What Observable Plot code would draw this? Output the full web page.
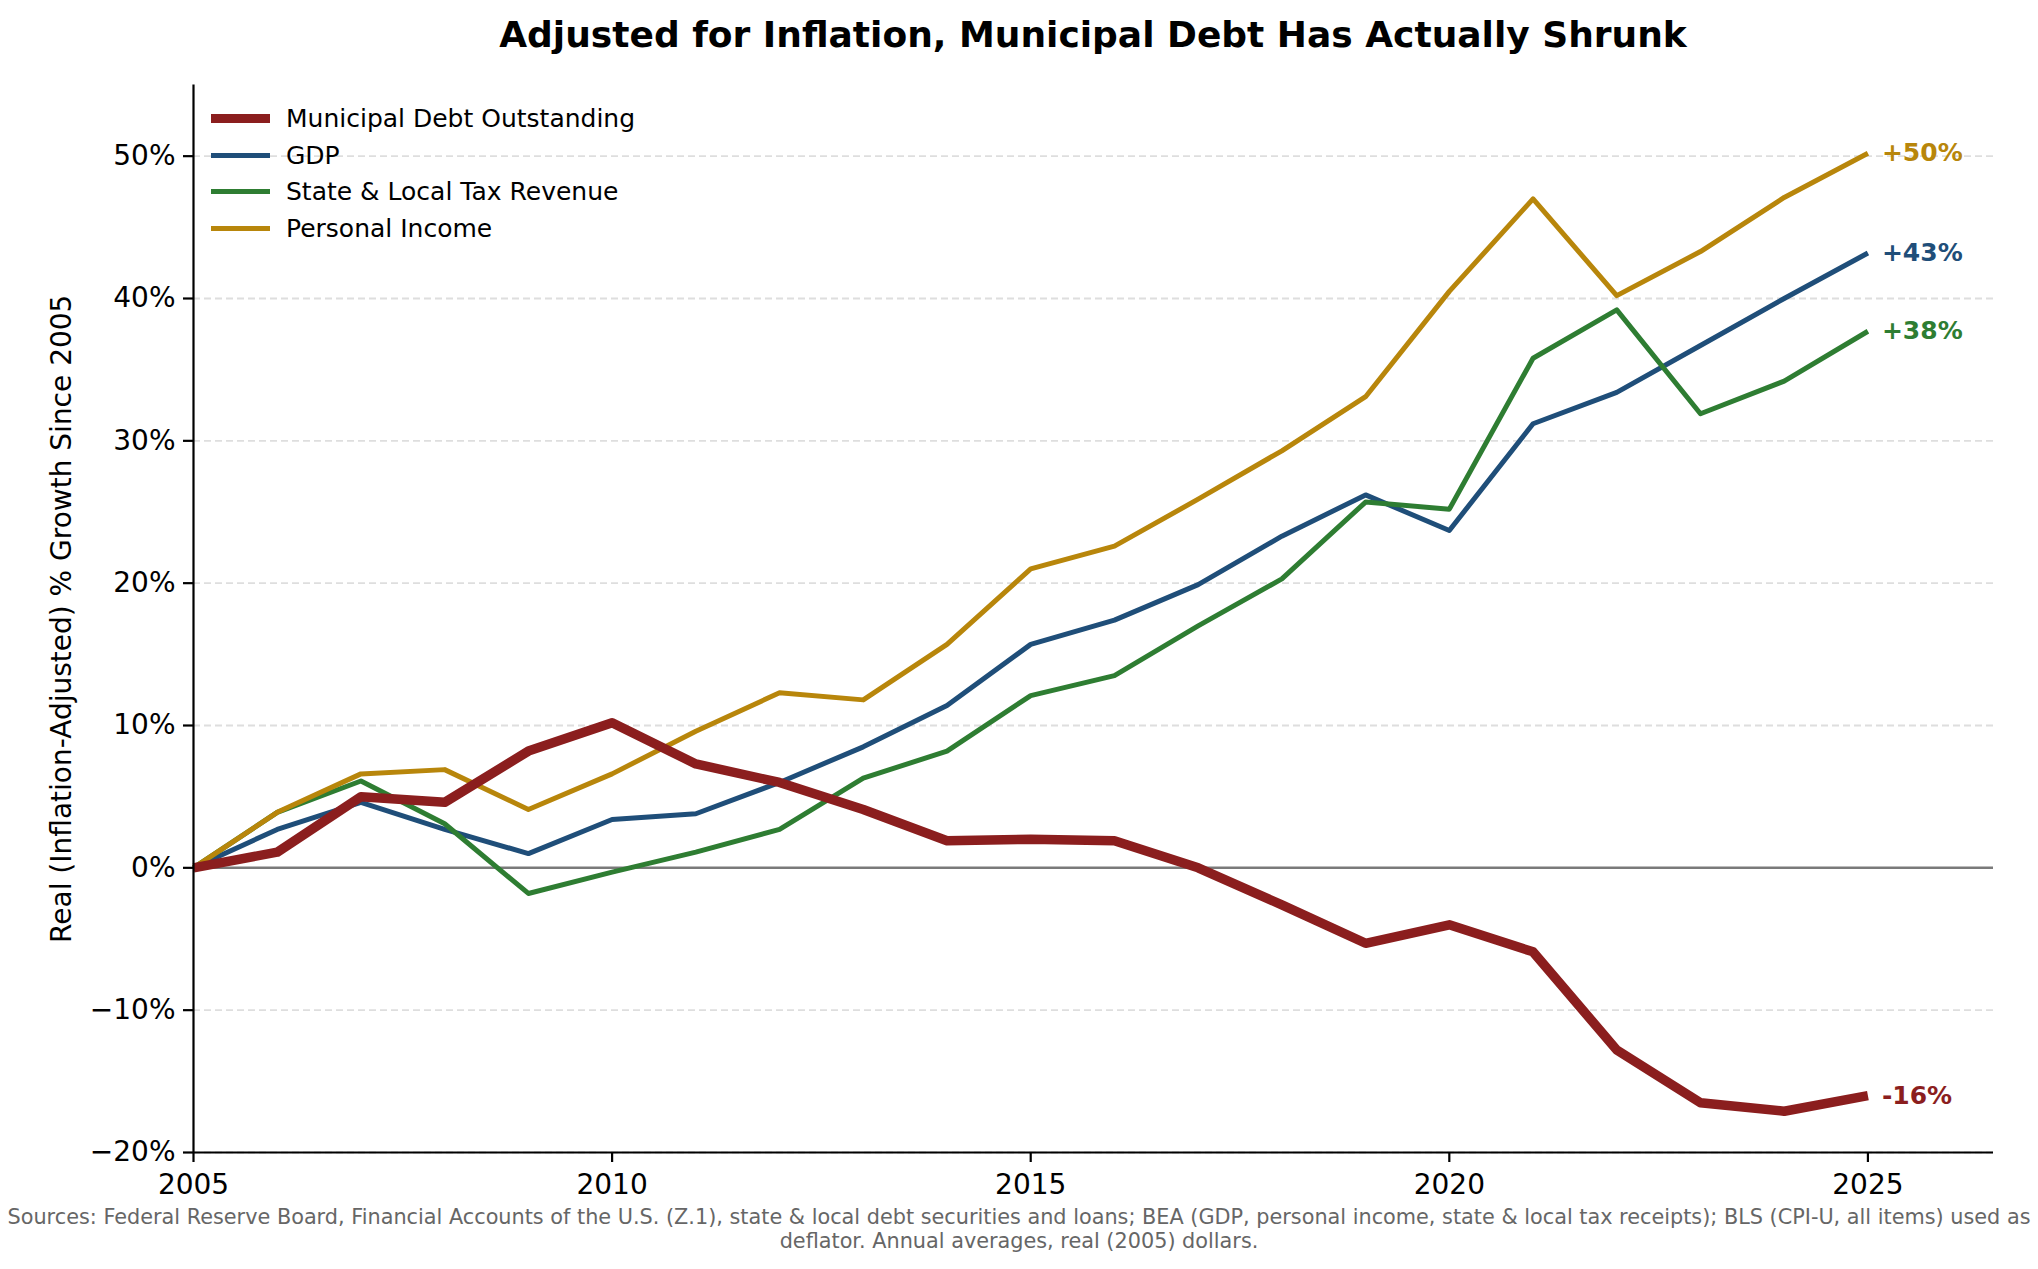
<!DOCTYPE html>
<html><head><meta charset="utf-8">
<script src="https://cdn.jsdelivr.net/npm/d3@7"></script>
<script src="https://cdn.jsdelivr.net/npm/@observablehq/plot@0.6"></script>
<style>
body{margin:0;background:#fff;font-family:"DejaVu Sans",sans-serif;}
#wrap{position:relative;width:2038px;height:1269px;overflow:hidden;}
#title{height:70px;line-height:70px;margin-left:193px;width:1800px;text-align:center;font-weight:bold;font-size:36px;color:#000;}
#chart svg{display:block;}
#caption{font-size:20.8px;line-height:24px;color:#666;text-align:center;width:2038px;margin-top:2px;white-space:nowrap;}
#legend{position:absolute;left:211px;top:100px;font-size:25px;color:#000;}
.row{display:flex;align-items:center;height:36.7px;}
.sw{width:59px;margin-right:16px;}
</style>
</head><body>
<div id="wrap">
<div id="title">Adjusted for Inflation, Municipal Debt Has Actually Shrunk</div>
<div id="chart"></div>
<div id="caption">Sources: Federal Reserve Board, Financial Accounts of the U.S. (Z.1), state &amp; local debt securities and loans; BEA (GDP, personal income, state &amp; local tax receipts); BLS (CPI-U, all items) used as<br>deflator. Annual averages, real (2005) dollars.</div>
<div id="legend"></div>
</div>
<script>
const years = [2005,2006,2007,2008,2009,2010,2011,2012,2013,2014,2015,2016,2017,2018,2019,2020,2021,2022,2023,2024,2025];
const seriesNames = ["Municipal Debt Outstanding","GDP","State & Local Tax Revenue","Personal Income"];
const seriesColors = ["#8B1E1E","#1F4E79","#2E7D32","#B8860B"];
const debt   = [0,1.1,5.0,4.6,8.2,10.2,7.3,6.0,4.1,1.9,2.0,1.9,0.0,-2.6,-5.3,-4.0,-5.9,-12.8,-16.5,-17.1,-16.0];
const gdp    = [0,2.7,4.6,2.7,1.0,3.4,3.8,6.0,8.5,11.4,15.7,17.4,19.9,23.3,26.2,23.7,31.2,33.4,36.7,40.0,43.2];
const tax    = [0,3.9,6.1,3.1,-1.8,-0.3,1.1,2.7,6.3,8.2,12.1,13.5,17.0,20.3,25.7,25.2,35.8,39.2,31.9,34.2,37.7];
const income = [0,3.9,6.6,6.9,4.1,6.6,9.6,12.3,11.8,15.7,21.0,22.6,25.9,29.3,33.1,40.5,47.0,40.2,43.3,47.1,50.2];
const xTicks = [2005,2010,2015,2020,2025];
const yTicks = [-20,-10,0,10,20,30,40,50];

const seriesValues = [debt, gdp, tax, income];
const rows = [];
seriesNames.forEach((name, i) => {
  years.forEach((yr, j) => rows.push({series: name, year: yr, value: seriesValues[i][j]}));
});
const debtRows = rows.filter(d => d.series === seriesNames[0]);
const otherRows = rows.filter(d => d.series !== seriesNames[0]);
const lastRows = rows.filter(d => d.year === years[years.length - 1]);
const fmtEnd = v => (v >= 0 ? "+" : "-") + Math.abs(Math.round(v)) + "%";
const fmtY = d => (d < 0 ? "\u2212" : "") + Math.abs(d) + "%";

const chart = Plot.plot({
  width: 2038,
  height: 1133,
  marginLeft: 193,
  marginRight: 45,
  marginTop: 14.5,
  marginBottom: 51,
  x: {domain: [2005, 2026.5]},
  y: {domain: [-20, 55]},
  color: {domain: seriesNames, range: seriesColors},
  style: {fontFamily: "DejaVu Sans", fontSize: "28px", color: "#000", background: "#fff"},
  marks: [
    Plot.gridY(yTicks, {stroke: "#dedede", strokeOpacity: 1, strokeWidth: 1.8, strokeDasharray: "7,4"}),
    Plot.ruleY([0], {stroke: "#7a7a7a", strokeWidth: 2.5}),
    Plot.line(otherRows, {x: "year", y: "value", z: "series", stroke: "series", strokeWidth: 5, strokeLinejoin: "round", strokeLinecap: "butt"}),
    Plot.line(debtRows, {x: "year", y: "value", z: "series", stroke: "series", strokeWidth: 9.5, strokeLinejoin: "round", strokeLinecap: "butt"}),
    Plot.text(lastRows, {x: "year", y: "value", text: d => fmtEnd(d.value), fill: "series", dx: 14, textAnchor: "start", fontWeight: "bold", fontSize: 25}),
    Plot.ruleX([2005], {stroke: "#000", strokeWidth: 2.2}),
    Plot.ruleY([-20], {stroke: "#000", strokeWidth: 2.2}),
    Plot.axisY(yTicks, {tickFormat: fmtY, tickSize: 10, tickPadding: 8, strokeWidth: 2.2, fontSize: 28,
      label: "Real (Inflation-Adjusted) % Growth Since 2005", labelAnchor: "center", labelArrow: "none", labelOffset: 142}),
    Plot.axisX(xTicks, {tickFormat: d => String(d), tickSize: 10, tickPadding: 12, strokeWidth: 2.2, fontSize: 28, label: null})
  ]
});
document.getElementById("chart").appendChild(chart);

const legend = document.getElementById("legend");
const widths = [9, 5, 5, 5];
seriesNames.forEach((name, i) => {
  const row = document.createElement("div");
  row.className = "row";
  const sw = document.createElement("div");
  sw.className = "sw";
  sw.style.height = widths[i] + "px";
  sw.style.background = seriesColors[i];
  const lab = document.createElement("span");
  lab.textContent = name;
  row.appendChild(sw);
  row.appendChild(lab);
  legend.appendChild(row);
});
</script>
</body></html>
